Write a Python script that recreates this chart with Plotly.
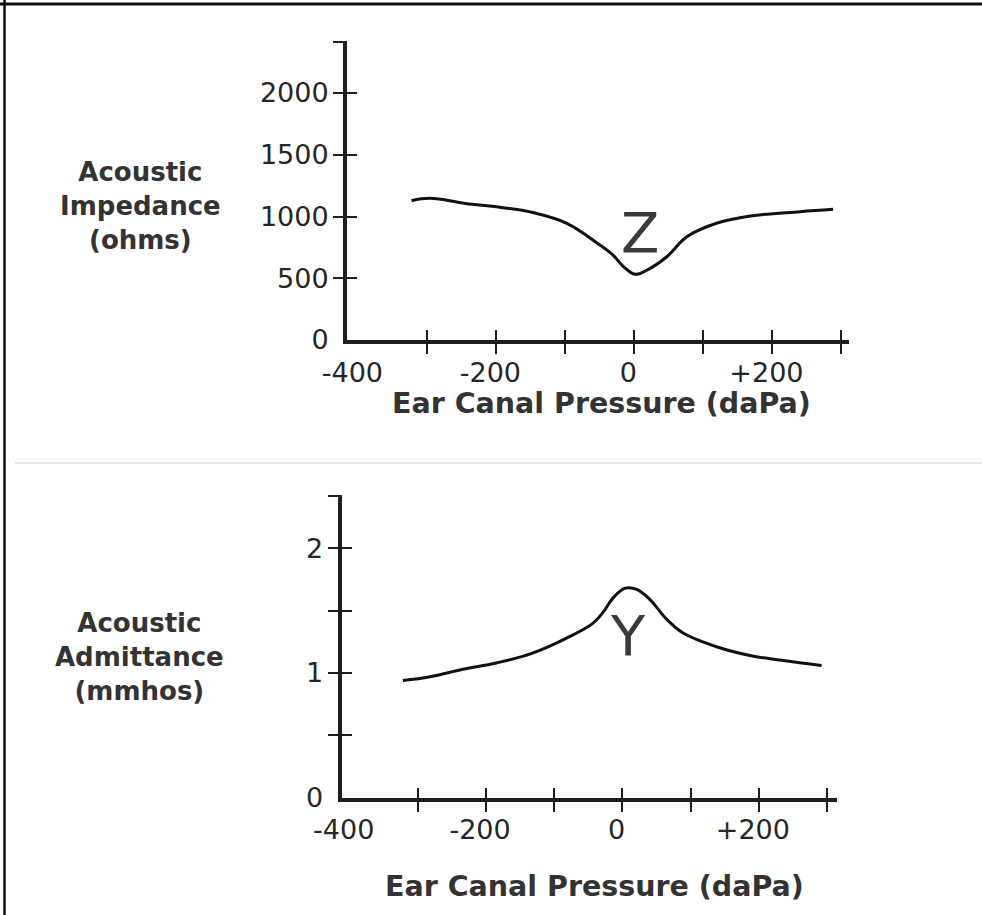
import plotly.graph_objects as go

W, H = 982, 915

# ---------------- data ----------------
Z_PRESSURE = [-323, -296, -245, -195, -147, -98, -50, -31, -16, 1, 18, 47, 76, 119, 168, 240, 288]
Z_VALUES = [1128, 1147, 1106, 1075, 1032, 945, 769, 688, 595, 532, 565, 674, 836, 945, 1004, 1039, 1058]

Y_PRESSURE = [-322, -282, -234, -185, -134, -82, -43, -28, -14, 4, 21, 40, 65, 89, 138, 187, 236, 292]
Y_VALUES = [0.94, 0.97, 1.03, 1.08, 1.155, 1.28, 1.40, 1.49, 1.60, 1.68, 1.67, 1.59, 1.43, 1.32, 1.21, 1.14, 1.10, 1.06]

X_TICKS = [-300, -200, -100, 0, 100, 200, 300]
X_LABEL_VALS = [-400, -200, 0, 200]
X_LABEL_TEXT = ["-400", "-200", "0", "+200"]

Z_TICKS = [500, 1000, 1500, 2000, 2416]
Z_LABEL_VALS = [0, 500, 1000, 1500, 2000]
Z_LABEL_TEXT = ["0", "500", "1000", "1500", "2000"]

Y_TICKS = [0.5, 1, 1.5, 2, 2.422]
Y_LABEL_VALS = [0, 1, 2]
Y_LABEL_TEXT = ["0", "1", "2"]

TOP_X_RANGE = [-416.5, 311]
TOP_Y_RANGE = [0, 2421]
BOT_X_RANGE = [-412, 314]
BOT_Y_RANGE = [0, 2.427]

X_TITLE = "Ear Canal Pressure (daPa)"
Z_LABEL = "Acoustic<br>Impedance<br>(ohms)"
Y_LABEL = "Acoustic<br>Admittance<br>(mmhos)"

# ---------------- styling ----------------
AX = "#1e1e1e"
TXT = "#262626"
FONT = "DejaVu Sans"
TICKFONT = dict(family=FONT, size=27, color=TXT)
LABELFONT = dict(family=FONT, size=26, color="#333333", weight="bold")
TITLEFONT = dict(family=FONT, size=28.5, color="#333333", weight="bold")


def dx(a, b):
    return [a / W, b / W]


def dy(top, bottom):
    return [1 - bottom / H, 1 - top / H]


def main_axis(domain, rng, anchor, tickvals):
    return dict(domain=domain, range=rng, anchor=anchor, showline=True, linewidth=4,
                linecolor=AX, ticks="outside", ticklen=10, tickwidth=1.6, tickcolor=AX,
                tickvals=tickvals, showticklabels=False, showgrid=False, zeroline=False,
                fixedrange=True, automargin=False)


def inside_axis(over, rng, anchor, tickvals, side):
    return dict(overlaying=over, range=rng, anchor=anchor, side=side, showline=False,
                ticks="inside", ticklen=10, tickwidth=1.6, tickcolor=AX, tickvals=tickvals,
                showticklabels=False, showgrid=False, zeroline=False, fixedrange=True,
                automargin=False)


def label_axis(over, rng, anchor, vals, text, side, ticklen, shift=0):
    return dict(overlaying=over, range=rng, anchor=anchor, side=side, showline=False,
                ticks="outside", ticklen=ticklen, tickcolor="rgba(0,0,0,0)", tickvals=vals,
                ticktext=text, tickfont=TICKFONT, ticklabelshift=shift, showgrid=False,
                zeroline=False, fixedrange=True, automargin=False)


fig = go.Figure()

fig.add_trace(go.Scatter(x=Z_PRESSURE, y=Z_VALUES, mode="lines", xaxis="x", yaxis="y",
                         line=dict(color="#111111", width=3, shape="spline", smoothing=1.1),
                         showlegend=False, hoverinfo="skip"))
fig.add_trace(go.Scatter(x=Y_PRESSURE, y=Y_VALUES, mode="lines", xaxis="x2", yaxis="y2",
                         line=dict(color="#111111", width=3, shape="spline", smoothing=1.1),
                         showlegend=False, hoverinfo="skip"))
for xa, ya in [("x3", "y3"), ("x5", "y5"), ("x4", "y4"), ("x6", "y6")]:
    fig.add_trace(go.Scatter(x=[None], y=[None], mode="lines", xaxis=xa, yaxis=ya,
                             showlegend=False, hoverinfo="skip"))

top_xd, top_yd = dx(347, 849), dy(41, 340)
bot_xd, bot_yd = dx(341.5, 836.6), dy(495, 797.7)

fig.update_layout(
    width=W, height=H,
    margin=dict(l=0, r=0, t=0, b=0),
    paper_bgcolor="white", plot_bgcolor="white",
    showlegend=False,
    # top chart
    xaxis=main_axis(top_xd, TOP_X_RANGE, "y", X_TICKS),
    yaxis=main_axis(top_yd, TOP_Y_RANGE, "x", Z_TICKS),
    xaxis3=inside_axis("x", TOP_X_RANGE, "y", X_TICKS, "bottom"),
    yaxis3=inside_axis("y", TOP_Y_RANGE, "x", Z_TICKS, "left"),
    xaxis5=label_axis("x", TOP_X_RANGE, "y", X_LABEL_VALS, X_LABEL_TEXT, "bottom", 9, -6),
    yaxis5=label_axis("y", TOP_Y_RANGE, "x", Z_LABEL_VALS, Z_LABEL_TEXT, "left", 12),
    # bottom chart
    xaxis2=main_axis(bot_xd, BOT_X_RANGE, "y2", X_TICKS),
    yaxis2=main_axis(bot_yd, BOT_Y_RANGE, "x2", Y_TICKS),
    xaxis4=inside_axis("x2", BOT_X_RANGE, "y2", X_TICKS, "bottom"),
    yaxis4=inside_axis("y2", BOT_Y_RANGE, "x2", Y_TICKS, "left"),
    xaxis6=label_axis("x2", BOT_X_RANGE, "y2", X_LABEL_VALS, X_LABEL_TEXT, "bottom", 8, -6),
    yaxis6=label_axis("y2", BOT_Y_RANGE, "x2", Y_LABEL_VALS, Y_LABEL_TEXT, "left", 12),
)

# curve letters
fig.add_annotation(x=8, y=874, xref="x", yref="y", text="Z", showarrow=False,
                   font=dict(family=FONT, size=56, color="#3a3a3a"))
fig.add_annotation(x=8, y=1.30, xref="x2", yref="y2", text="Y", showarrow=False,
                   font=dict(family=FONT, size=56, color="#3a3a3a"))

# axis titles (x) and left-hand quantity labels
fig.add_annotation(x=601 / W, y=1 - 403 / H, xref="paper", yref="paper", text=X_TITLE,
                   showarrow=False, xanchor="center", yanchor="middle", font=TITLEFONT)
fig.add_annotation(x=594 / W, y=1 - 886 / H, xref="paper", yref="paper", text=X_TITLE,
                   showarrow=False, xanchor="center", yanchor="middle", font=TITLEFONT)
fig.add_annotation(x=140 / W, y=1 - 206 / H, xref="paper", yref="paper", text=Z_LABEL,
                   showarrow=False, align="center", xanchor="center", yanchor="middle",
                   font=LABELFONT)
fig.add_annotation(x=139 / W, y=1 - 657 / H, xref="paper", yref="paper", text=Y_LABEL,
                   showarrow=False, align="center", xanchor="center", yanchor="middle",
                   font=LABELFONT)

# page frame and faint separator of the scanned figure
fig.add_shape(type="line", xref="paper", yref="paper", x0=0, x1=1, y0=1 - 4 / H, y1=1 - 4 / H,
              line=dict(color="#111111", width=3))
fig.add_shape(type="line", xref="paper", yref="paper", x0=4.5 / W, x1=4.5 / W, y0=0, y1=1,
              line=dict(color="#111111", width=2.5))
fig.add_shape(type="line", xref="paper", yref="paper", x0=15 / W, x1=1, y0=1 - 463 / H,
              y1=1 - 463 / H, line=dict(color="#e6e6e6", width=2))

fig.write_html("out.html",
               config={"displayModeBar": False},
               post_script="document.body.style.margin='0px';"
                           "document.body.style.overflow='hidden';")
